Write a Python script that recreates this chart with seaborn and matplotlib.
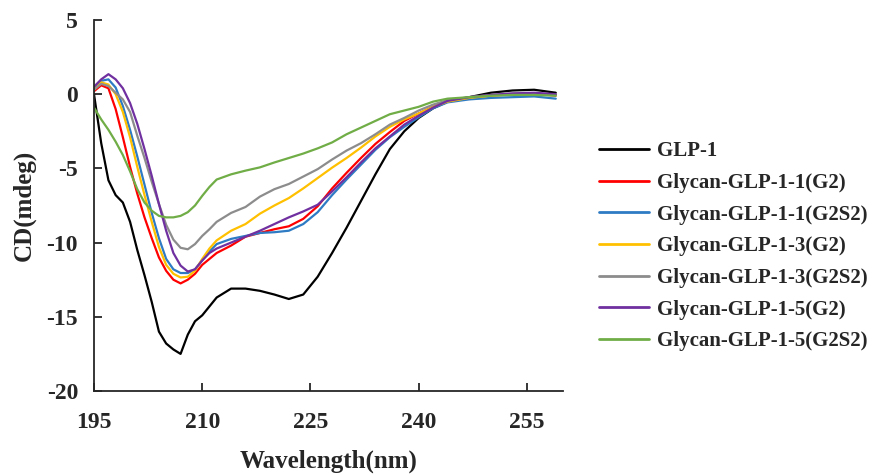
import matplotlib
matplotlib.use('Agg')
import matplotlib.pyplot as plt
import pandas as pd
import seaborn as sns

wavelength = [195, 196, 197, 198, 199, 200, 201, 202, 203, 204, 205, 206, 207, 208, 209, 210,
              211, 212, 214, 216, 218, 220, 222, 224, 226, 228, 230, 232, 234, 236, 238, 240,
              242, 244, 247, 250, 253, 256, 259]

glp1 = [0.0, -3.3, -5.8, -6.8, -7.3, -8.6, -10.5, -12.2, -14.0, -16.0, -16.8, -17.2, -17.5, -16.2,
        -15.3, -14.9, -14.3, -13.7, -13.1, -13.1, -13.25, -13.5, -13.8, -13.5, -12.3, -10.7, -9.0,
        -7.2, -5.4, -3.7, -2.5, -1.6, -0.95, -0.5, -0.2, 0.1, 0.25, 0.3, 0.1]
g11_g2 = [0.2, 0.6, 0.4, -1.0, -2.9, -4.9, -6.7, -8.3, -9.7, -11.0, -11.9, -12.5, -12.75, -12.5,
          -12.1, -11.5, -11.1, -10.7, -10.2, -9.6, -9.35, -9.1, -8.9, -8.4, -7.55, -6.35, -5.3,
          -4.3, -3.35, -2.55, -1.8, -1.3, -0.85, -0.5, -0.25, -0.1, 0.0, 0.05, -0.1]
g11_g2s2 = [0.4, 0.9, 1.0, 0.45, -0.8, -2.4, -4.2, -6.1, -8.0, -9.7, -11.1, -11.8, -12.05, -12.05,
            -11.8, -11.2, -10.6, -10.1, -9.75, -9.55, -9.35, -9.3, -9.2, -8.75, -7.95, -6.8, -5.75,
            -4.75, -3.75, -2.9, -2.2, -1.55, -0.95, -0.55, -0.35, -0.25, -0.2, -0.15, -0.3]
g13_g2 = [0.3, 0.8, 0.65, 0.0, -1.2, -2.9, -4.9, -6.8, -8.6, -10.3, -11.5, -12.1, -12.35, -12.3,
          -11.9, -11.1, -10.4, -9.85, -9.2, -8.75, -8.05, -7.5, -7.0, -6.35, -5.65, -4.95, -4.3,
          -3.6, -2.85, -2.2, -1.7, -1.3, -0.85, -0.5, -0.25, -0.1, 0.0, 0.05, -0.05]
g13_g2s2 = [0.3, 0.7, 0.55, 0.1, -0.35, -1.2, -2.8, -4.3, -5.9, -7.4, -8.8, -9.8, -10.35, -10.45,
            -10.1, -9.55, -9.1, -8.6, -8.0, -7.6, -6.9, -6.4, -6.05, -5.55, -5.05, -4.4, -3.8,
            -3.3, -2.7, -2.05, -1.6, -1.1, -0.7, -0.4, -0.2, -0.05, 0.05, 0.05, -0.05]
g15_g2 = [0.5, 1.0, 1.35, 1.0, 0.4, -0.6, -2.0, -3.7, -5.5, -7.4, -9.2, -10.7, -11.55, -11.95,
          -11.8, -11.2, -10.7, -10.4, -10.0, -9.6, -9.2, -8.75, -8.3, -7.9, -7.45, -6.55, -5.6,
          -4.6, -3.65, -2.85, -2.05, -1.45, -0.9, -0.45, -0.2, -0.05, 0.05, 0.1, 0.0]
g15_g2s2 = [-0.9, -1.7, -2.4, -3.2, -4.1, -5.2, -6.4, -7.3, -7.85, -8.2, -8.3, -8.3, -8.2, -7.95,
            -7.5, -6.85, -6.25, -5.75, -5.4, -5.15, -4.93, -4.6, -4.3, -4.0, -3.65, -3.25, -2.7,
            -2.25, -1.8, -1.35, -1.1, -0.85, -0.5, -0.3, -0.2, -0.1, -0.05, -0.05, -0.1]

names = ['GLP-1', 'Glycan-GLP-1-1(G2)', 'Glycan-GLP-1-1(G2S2)', 'Glycan-GLP-1-3(G2)',
         'Glycan-GLP-1-3(G2S2)', 'Glycan-GLP-1-5(G2)', 'Glycan-GLP-1-5(G2S2)']
colors = ['#000000', '#FF0000', '#2E7BC4', '#FFC000', '#8C8C8C', '#7030A0', '#70AD47']

series = [glp1, g11_g2, g11_g2s2, g13_g2, g13_g2s2, g15_g2, g15_g2s2]
df = pd.concat([pd.DataFrame({'wl': wavelength, 'cd': s, 'sample': n})
                for n, s in zip(names, series)], ignore_index=True)

sns.set_style('ticks')
plt.rcParams['font.family'] = ['Liberation Serif', 'DejaVu Serif']
plt.rcParams['font.weight'] = 'bold'
plt.rcParams['axes.unicode_minus'] = False

fig = plt.figure(figsize=(8.78, 4.75), dpi=100)
ax = fig.add_axes([94 / 878, 84 / 475, 469 / 878, 371 / 475])

sns.lineplot(data=df, x='wl', y='cd', hue='sample', palette=colors, hue_order=names,
             linewidth=1.6, ax=ax)

ax.set_xlim(195, 260)
ax.set_ylim(-20, 5)
ax.set_xticks([195, 210, 225, 240, 255])
ax.set_yticks([5, 0, -5, -10, -15, -20])
ax.tick_params(direction='in', length=6, width=1.3, labelsize=17)
ax.tick_params(axis='y', pad=11.5)
ax.tick_params(axis='x', pad=15)
for lab in ax.get_xticklabels() + ax.get_yticklabels():
    lab.set_fontweight('bold')
sns.despine(ax=ax)
for sp in ['left', 'bottom']:
    ax.spines[sp].set_linewidth(1.3)

ax.set_xlabel('Wavelength(nm)', fontsize=18, fontweight='bold', labelpad=12)
ax.set_ylabel('CD(mdeg)', fontsize=18, fontweight='bold', labelpad=8)

sns.move_legend(ax, loc='upper left', bbox_to_anchor=(1.077, 0.673), frameon=False, title=None,
                fontsize=15, handlelength=2.4, handletextpad=0.38, labelspacing=0.56,
                borderpad=0, borderaxespad=0)
for t in ax.get_legend().get_texts():
    t.set_fontweight('bold')
for h in ax.get_legend().get_lines():
    h.set_linewidth(2)

fig.savefig('out.png', dpi=100)
